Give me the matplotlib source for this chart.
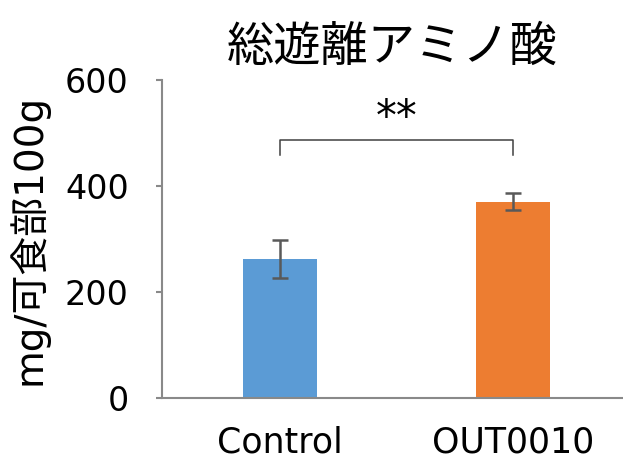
import numpy as np
import matplotlib.pyplot as plt

plt.rcParams['font.family'] = ['DejaVu Sans', 'Noto Sans CJK JP']

# --- data ---
categories = ["Control", "OUT0010"]
values = [262, 370]
errors = [36, 16]
bar_colors = ["#5B9BD5", "#ED7D31"]
title = "総遊離アミノ酸"
ylabel = "mg/可食部100g"
yticks = [0, 200, 400, 600]
sig_label = "**"

fig = plt.figure(figsize=(6.23, 4.62), dpi=100)
ax = fig.add_axes([0.260, 0.1385, 0.740, 0.6883])

x = np.arange(len(categories))
ax.bar(x, values, width=0.32, color=bar_colors, zorder=2)
ax.errorbar(x, values, yerr=errors, fmt="none", ecolor="#595959",
            elinewidth=1.8, capsize=5.5, capthick=1.8, zorder=3)

# --- significance bracket ---
br_low, br_high = 458, 487
ax.plot([x[0], x[0], x[1], x[1]], [br_low, br_high, br_high, br_low],
        color="#404040", lw=1.1, solid_joinstyle="round")
ax.text((x[0] + x[1]) / 2, 488, sig_label, ha="center", va="bottom",
        fontsize=30)

ax.set_xlim(-0.506, 1.472)
ax.set_ylim(0, 600)
ax.set_yticks(yticks)
ax.set_xticks(x)
ax.set_xticklabels(categories)

for side in ["top", "right"]:
    ax.spines[side].set_visible(False)
for side in ["left", "bottom"]:
    ax.spines[side].set_color("#898989")
    ax.spines[side].set_linewidth(1.5)

ax.tick_params(axis="y", length=4, width=1.5, color="#898989",
               labelsize=24, pad=20)
ax.tick_params(axis="x", length=0, labelsize=25, pad=20)

ax.set_ylabel(ylabel, fontsize=28, labelpad=12)
ax.set_title(title, fontsize=34, pad=14, x=0.5)

fig.savefig("out.png", dpi=100)
